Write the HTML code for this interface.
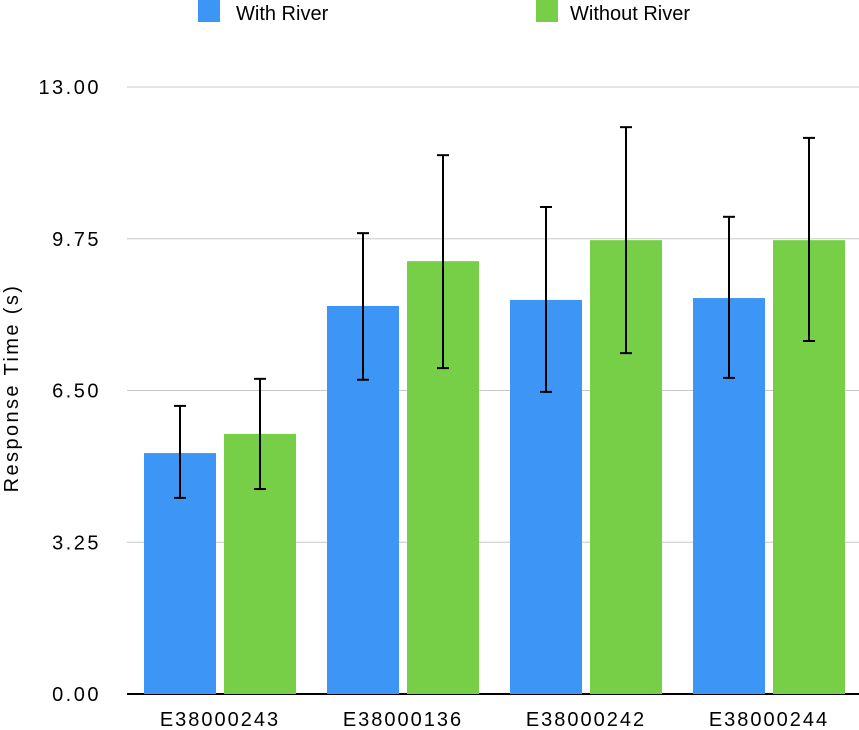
<!DOCTYPE html>
<html><head><meta charset="utf-8"><style>
body{margin:0;background:#fff;}
svg{display:block;font-family:"Liberation Sans",Arial,sans-serif;}
</style></head><body>
<svg id="chart" width="859" height="730">
  <g id="legend">
    <rect x="198" y="0" width="22" height="22" fill="#3d96f5"/>
    <text x="236" y="20" font-size="20" fill="#000">With River</text>
    <rect x="536" y="0" width="22" height="22" fill="#76cf47"/>
    <text x="570" y="20" font-size="20" fill="#000">Without River</text>
  </g>
  <text transform="translate(18,388) rotate(-90)" text-anchor="middle" font-size="20" letter-spacing="2.4">Response Time (s)</text>
  <g id="grid"></g>
  <g id="bars"></g>
  <g id="xlabels"></g>
</svg>
<script>
const categories=["E38000243","E38000136","E38000242","E38000244"];
const withRiver=[5.16,8.31,8.44,8.48];
const withRiverHigh=[6.17,9.87,10.43,10.22];
const withRiverLow=[4.20,6.73,6.47,6.77];
const withoutRiver=[5.57,9.27,9.72,9.72];
const withoutRiverHigh=[6.75,11.54,12.14,11.91];
const withoutRiverLow=[4.39,6.98,7.30,7.56];
const yTicks=[0,3.25,6.5,9.75,13];
const yTickLabels=["0.00","3.25","6.50","9.75","13.00"];

const NS="http://www.w3.org/2000/svg";
const x0=127,x1=859,y0=694,yTop=87,yMax=13;
function y(v){return y0-(v/yMax)*(y0-yTop);}
const groupW=(x1-x0)/categories.length;
function mk(tag,attrs,parent){const e=document.createElementNS(NS,tag);for(const k in attrs)e.setAttribute(k,attrs[k]);parent.appendChild(e);return e;}
const grid=document.getElementById('grid'),bars=document.getElementById('bars'),xl=document.getElementById('xlabels');
yTicks.forEach((t,i)=>{
  const l=mk('line',{x1:x0,x2:x1,y1:y(t),y2:y(t),stroke:t===0?'#000':'#c8c8c8','stroke-width':t===0?2:1},grid);
  
  
  const tx=mk('text',{x:101,y:y(t)+7,'text-anchor':'end','font-size':20,'letter-spacing':2.5},grid);
  tx.textContent=yTickLabels[i];
  
  
});
const barW=72;
function drawBar(cx,v,hi,lo,color,name){
  const r=mk('rect',{x:cx-barW/2,y:y(v),width:barW,height:y0-y(v),fill:color},bars);
  
  
  const g=mk('g',{stroke:'#000','stroke-width':2},bars);
  
  
  mk('line',{x1:cx,x2:cx,y1:y(hi),y2:y(lo)},g);
  mk('line',{x1:cx-6,x2:cx+6,y1:y(hi),y2:y(hi)},g);
  mk('line',{x1:cx-6,x2:cx+6,y1:y(lo),y2:y(lo)},g);
}
categories.forEach((c,i)=>{
  const gx=x0+17+i*groupW;
  drawBar(gx+36,withRiver[i],withRiverHigh[i],withRiverLow[i],'#3d96f5','bar-with-river-'+c);
  drawBar(gx+116,withoutRiver[i],withoutRiverHigh[i],withoutRiverLow[i],'#76cf47','bar-without-river-'+c);
  const t=mk('text',{x:gx+76,y:726,'text-anchor':'middle','font-size':20,'letter-spacing':2},xl);
  t.textContent=c;
  
  
});
</script>
</body></html>
